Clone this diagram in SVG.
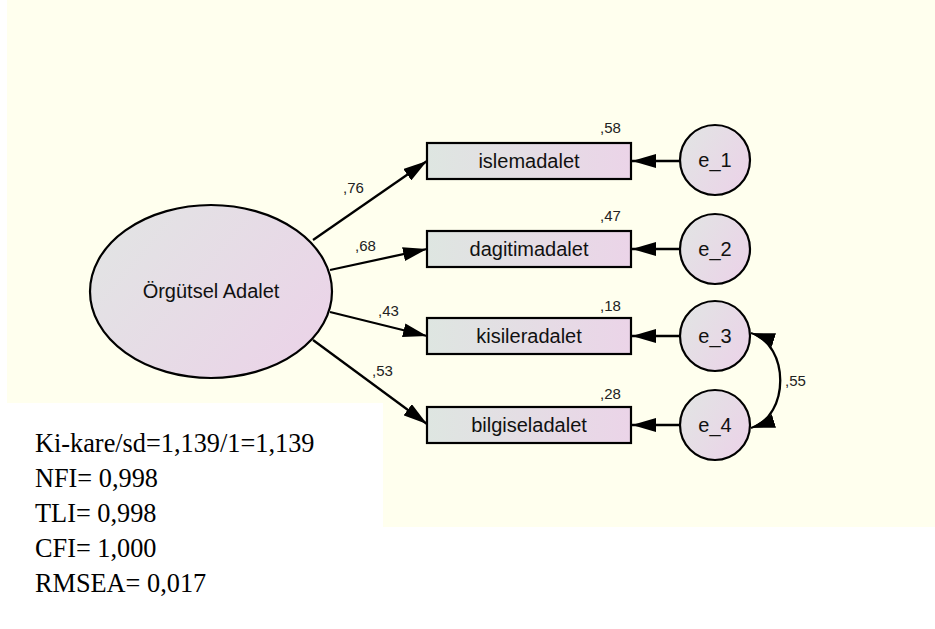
<svg xmlns="http://www.w3.org/2000/svg" width="935" height="629" viewBox="0 0 935 629">
  <style>
    .shape { stroke: #000; stroke-width: 2.2; }
    .lbl { font-family: "Liberation Sans", Arial, sans-serif; font-size: 20px; fill: #111; text-anchor: middle; }
    .val { font-family: "Liberation Sans", Arial, sans-serif; font-size: 15px; fill: #222; }
    .fit { font-family: "Liberation Serif", "Times New Roman", serif; font-size: 26.3px; fill: #000; }
    .edge { stroke: #000; stroke-width: 2.3; fill: none; }
  </style>
  <defs>
    <linearGradient id="gBox" x1="0" y1="0" x2="1" y2="0">
      <stop offset="0" stop-color="#DEE6E1"/>
      <stop offset="1" stop-color="#EBD4E8"/>
    </linearGradient>
    <linearGradient id="gOval" x1="0" y1="0.2" x2="1" y2="0.8">
      <stop offset="0" stop-color="#E2E4E4"/>
      <stop offset="1" stop-color="#EBD3E8"/>
    </linearGradient>
    <marker id="arr" viewBox="0 0 24 14" refX="24" refY="7" markerWidth="24" markerHeight="14" markerUnits="userSpaceOnUse" orient="auto-start-reverse">
      <path d="M0,0 L24,7 L0,14 Z" fill="#000"/>
    </marker>
  </defs>

  <path d="M7,0 H935 V527 H383 V403 H7 Z" fill="#FFFFEE"/>

  <g id="connectors">
    <line class="edge" x1="313" y1="240" x2="427" y2="161" marker-end="url(#arr)"/>
    <line class="edge" x1="330" y1="270" x2="427" y2="249" marker-end="url(#arr)"/>
    <line class="edge" x1="330" y1="312" x2="427" y2="336" marker-end="url(#arr)"/>
    <line class="edge" x1="313" y1="340" x2="427" y2="424" marker-end="url(#arr)"/>
    <line class="edge" x1="680" y1="161" x2="632" y2="161" marker-end="url(#arr)"/>
    <line class="edge" x1="680" y1="249" x2="632" y2="249" marker-end="url(#arr)"/>
    <line class="edge" x1="680" y1="336" x2="632" y2="336" marker-end="url(#arr)"/>
    <line class="edge" x1="680" y1="425" x2="632" y2="425" marker-end="url(#arr)"/>
    <path class="edge" d="M751,333 C790,345 790,416 751,428" marker-start="url(#arr)" marker-end="url(#arr)"/>
    <text class="val" x="343" y="193">,76</text>
    <text class="val" x="355" y="251">,68</text>
    <text class="val" x="378" y="316">,43</text>
    <text class="val" x="372" y="376">,53</text>
    <text class="val" x="785" y="386">,55</text>
  </g>

  <g id="orgutsel-adalet">
    <ellipse class="shape" cx="211" cy="291.5" rx="121" ry="86.5" fill="url(#gOval)"/>
    <text class="lbl" x="211" y="298">Örgütsel Adalet</text>
  </g>

  <g id="islemadalet">
    <rect class="shape" x="427" y="143" width="204" height="36" fill="url(#gBox)"/>
    <text class="lbl" x="529" y="168">islemadalet</text>
    <text class="val" x="600" y="133">,58</text>
  </g>
  <g id="dagitimadalet">
    <rect class="shape" x="427" y="231" width="204" height="36" fill="url(#gBox)"/>
    <text class="lbl" x="529" y="256">dagitimadalet</text>
    <text class="val" x="600" y="221">,47</text>
  </g>
  <g id="kisileradalet">
    <rect class="shape" x="427" y="318" width="204" height="36" fill="url(#gBox)"/>
    <text class="lbl" x="529" y="343">kisileradalet</text>
    <text class="val" x="600" y="311">,18</text>
  </g>
  <g id="bilgiseladalet">
    <rect class="shape" x="427" y="407" width="204" height="36" fill="url(#gBox)"/>
    <text class="lbl" x="529" y="432">bilgiseladalet</text>
    <text class="val" x="600" y="399">,28</text>
  </g>

  <g id="e_1">
    <circle class="shape" cx="715" cy="160" r="35" fill="url(#gOval)"/>
    <text class="lbl" x="715" y="167">e_1</text>
  </g>
  <g id="e_2">
    <circle class="shape" cx="715" cy="249" r="35" fill="url(#gOval)"/>
    <text class="lbl" x="715" y="256">e_2</text>
  </g>
  <g id="e_3">
    <circle class="shape" cx="715" cy="336" r="35" fill="url(#gOval)"/>
    <text class="lbl" x="715" y="343">e_3</text>
  </g>
  <g id="e_4">
    <circle class="shape" cx="715" cy="425" r="35" fill="url(#gOval)"/>
    <text class="lbl" x="715" y="432">e_4</text>
  </g>

  <g id="fit-stats">
    <text class="fit" x="35" y="452">Ki-kare/sd=1,139/1=1,139</text>
    <text class="fit" x="35" y="487">NFI= 0,998</text>
    <text class="fit" x="35" y="522">TLI= 0,998</text>
    <text class="fit" x="35" y="557">CFI= 1,000</text>
    <text class="fit" x="35" y="592">RMSEA= 0,017</text>
  </g>
</svg>
